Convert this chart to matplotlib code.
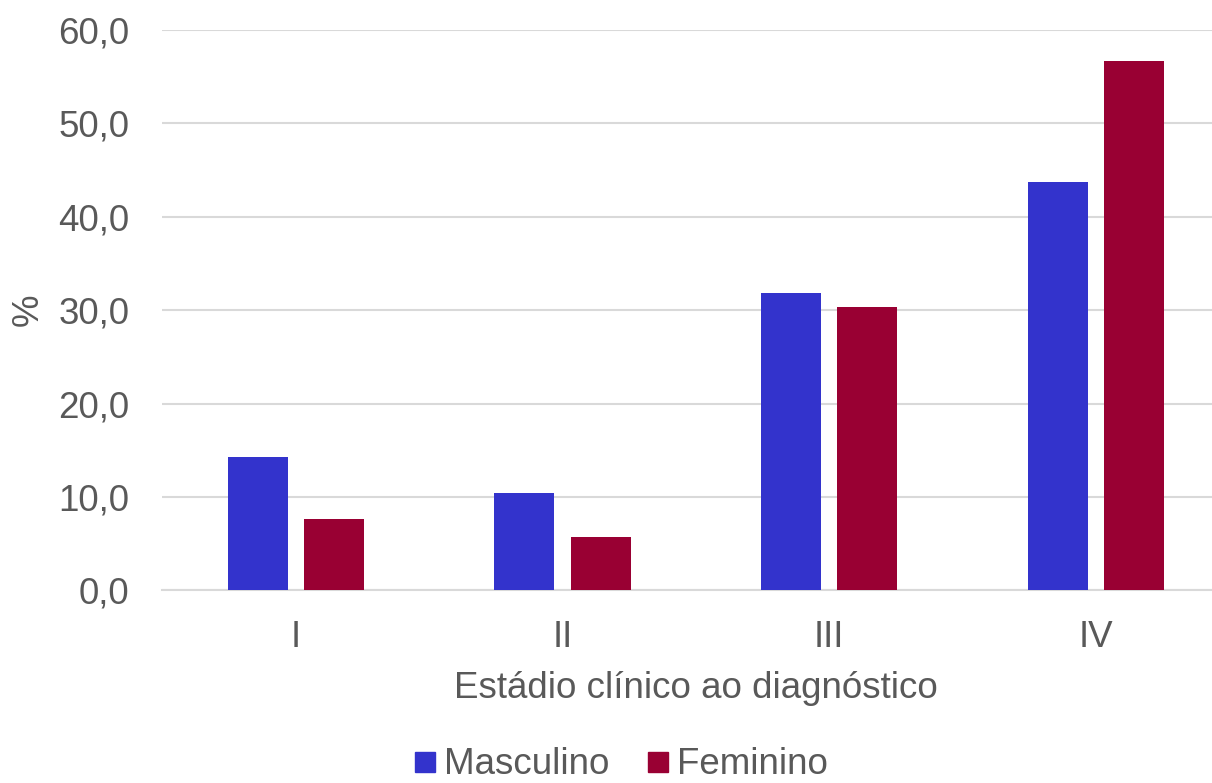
import matplotlib
matplotlib.use("Agg")
import matplotlib.pyplot as plt
from matplotlib.lines import Line2D
import numpy as np

categories = ["I", "II", "III", "IV"]
masculino = [14.3, 10.4, 31.8, 43.7]
feminino = [7.6, 5.7, 30.3, 56.7]
series_names = ["Masculino", "Feminino"]
colors = ["#3333CC", "#990033"]
yticks = [0, 10, 20, 30, 40, 50, 60]
ytick_labels = ["0,0", "10,0", "20,0", "30,0", "40,0", "50,0", "60,0"]

plt.rcParams['font.family'] = ['Liberation Sans', 'DejaVu Sans']
txt = "#595959"
fs = 26.5

W, H = 1212, 783
fig = plt.figure(figsize=(W / 100, H / 100), dpi=100)
left = 162.3 / W
width = 1067.2 / W
bottom = (H - 590.3) / H
height = (590.3 - 30.0) / H
ax = fig.add_axes([left, bottom, width, height])

x = np.arange(len(categories))
bw = 0.225
gap = 0.06
off = (bw + gap) / 2
ax.bar(x - off, masculino, bw, color=colors[0], zorder=3, label=series_names[0])
ax.bar(x + off, feminino, bw, color=colors[1], zorder=3, label=series_names[1])

ax.set_xlim(-0.5, len(categories) - 0.5)
ax.set_ylim(0, 60)
ax.set_yticks(yticks)
ax.set_yticklabels(ytick_labels)
ax.set_xticks(x)
ax.set_xticklabels(categories)
ax.grid(axis='y', color='#D9D9D9', linewidth=1.5, zorder=0)
ax.set_axisbelow(True)
for s in ['top', 'right', 'left']:
    ax.spines[s].set_visible(False)
ax.spines['bottom'].set_color('#D9D9D9')
ax.spines['bottom'].set_linewidth(1.5)
ax.tick_params(axis='both', length=0, labelsize=fs, labelcolor=txt)
ax.tick_params(axis='y', pad=23.8)
ax.tick_params(axis='x', pad=21.6)

ax.set_xlabel("Estádio clínico ao diagnóstico", fontsize=fs, color=txt, va='baseline')
ax.xaxis.set_label_coords(0.5, (590.3 - 698) / 560.3)
ax.set_ylabel("%", fontsize=fs, color=txt, va='center', ha='center')
ax.yaxis.set_label_coords((28 - 162.3) / 1067.2, 0.5)

handles = [Line2D([], [], marker='s', linestyle='none', markersize=13.7,
                  markerfacecolor=c, markeredgecolor=c) for c in colors]
fig.legend(handles, series_names, loc='center', bbox_to_anchor=(621 / W, 1 - 765 / H),
           ncol=2, frameon=False, fontsize=fs, labelcolor=txt,
           handlelength=0.6, handletextpad=0.23, columnspacing=1.0,
           borderaxespad=0, borderpad=0)

fig.savefig("out.png", dpi=100)
